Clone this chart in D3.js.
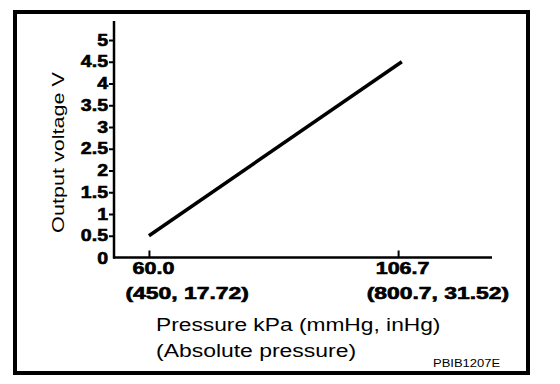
<!DOCTYPE html>
<html>
<head>
<meta charset="utf-8">
<script src="https://cdn.jsdelivr.net/npm/d3@7"></script>
<style>
  body { margin: 0; background: #fff; }
  svg { display: block; }
  text { font-family: "Liberation Sans", Arial, sans-serif; fill: #000; }
  .num { font-weight: bold; stroke: #000; stroke-width: 0.6px; }
</style>
</head>
<body>
<script>
// values
var voltageTicks = [0, 0.5, 1, 1.5, 2, 2.5, 3, 3.5, 4, 4.5, 5];
var pressureTicks = [60.0, 106.7];
var pressureLabels = ["60.0", "106.7"];
var pressureSubLabels = ["(450, 17.72)", "(800.7, 31.52)"];
var linePressure = [60.0, 107.4];
var lineVoltage = [0.5, 4.5];

var w = 560, h = 384;
var svg = d3.select("body").append("svg")
    .attr("width", w)
    .attr("height", h);

// stretch text along its own direction, the source font is wide
function widen(sel, k) {
    sel.each(function () {
        var len = this.getComputedTextLength();
        d3.select(this)
            .attr("textLength", len * k)
            .attr("lengthAdjust", "spacingAndGlyphs");
    });
}

// frame
svg.append("rect")
    .attr("x", 15).attr("y", 12)
    .attr("width", 513).attr("height", 361)
    .attr("fill", "none")
    .attr("stroke", "#000")
    .attr("stroke-width", 4);

var x = d3.scaleLinear()
    .domain([53.45, 124.3])
    .range([114, 492]);
var y = d3.scaleLinear()
    .domain([0, 5])
    .range([257.5, 40]);

// y axis
var yAxis = d3.axisLeft(y)
    .tickValues(voltageTicks.slice(1))
    .tickFormat(function (d) { return String(d); })
    .tickSize(5)
    .tickPadding(1);
var gy = svg.append("g")
    .attr("transform", "translate(114,0)")
    .call(yAxis);
gy.select(".domain").remove();
gy.selectAll(".tick line").attr("stroke", "#000").attr("stroke-width", 2);
gy.selectAll(".tick text")
    .attr("class", "num")
    .style("font-size", "16px")
    .attr("fill", "#000");
// zero label sits at the corner without a tick
gy.append("text")
    .attr("class", "num")
    .attr("x", -6).attr("y", y(0) + 1).attr("dy", "0.35em")
    .attr("text-anchor", "end")
    .style("font-size", "16px")
    .text(String(voltageTicks[0]));
widen(gy.selectAll("text"), 1.22);

svg.append("line")
    .attr("x1", 114).attr("x2", 114)
    .attr("y1", 21).attr("y2", y(0) + 1)
    .attr("stroke", "#000").attr("stroke-width", 2.5);

// x axis
var xAxis = d3.axisTop(x)
    .tickValues(pressureTicks)
    .tickFormat(function (d, i) { return pressureLabels[i]; })
    .tickSize(7);
var gx = svg.append("g")
    .attr("transform", "translate(0," + y(0) + ")")
    .call(xAxis);
gx.select(".domain").remove();
gx.selectAll(".tick line").attr("stroke", "#000").attr("stroke-width", 2);
gx.selectAll(".tick text").remove();

svg.append("line")
    .attr("x1", 113).attr("x2", 492)
    .attr("y1", y(0)).attr("y2", y(0))
    .attr("stroke", "#000").attr("stroke-width", 2.5);

gx.selectAll(".tick").each(function (d, i) {
    var t = d3.select(this);
    var num = t.append("text")
        .attr("class", "num")
        .attr("x", 4).attr("y", 16)
        .attr("text-anchor", "middle")
        .style("font-size", "16px")
        .text(pressureLabels[i]);
    widen(num, 1.34);
    var half = num.node().getComputedTextLength() * 1.34 / 2;
    var sub = t.append("text")
        .attr("class", "num")
        .attr("x", 4 - half).attr("y", 41)
        .attr("text-anchor", "start")
        .style("font-size", "16px")
        .text(pressureSubLabels[i]);
    widen(sub, 1.43);
});

// the curve
var pts = linePressure.map(function (p, i) { return [p, lineVoltage[i]]; });
svg.append("path")
    .datum(pts)
    .attr("d", d3.line()
        .x(function (d) { return x(d[0]); })
        .y(function (d) { return y(d[1]); }))
    .attr("fill", "none")
    .attr("stroke", "#000")
    .attr("stroke-width", 3.5);

// titles
var yTitle = svg.append("text")
    .attr("transform", "translate(64,152.5) rotate(-90)")
    .attr("text-anchor", "middle")
    .style("font-size", "17px")
    .text("Output voltage V");
widen(yTitle, 1.27);

var xTitle1 = svg.append("text")
    .attr("x", 156).attr("y", 331)
    .style("font-size", "17.5px")
    .text("Pressure kPa (mmHg, inHg)");
widen(xTitle1, 1.3);

var xTitle2 = svg.append("text")
    .attr("x", 156).attr("y", 357)
    .style("font-size", "17.5px")
    .text("(Absolute pressure)");
widen(xTitle2, 1.31);

var code = svg.append("text")
    .attr("x", 433).attr("y", 367)
    .style("font-size", "10px")
    .text("PBIB1207E");
widen(code, 1.3);
</script>
</body>
</html>
